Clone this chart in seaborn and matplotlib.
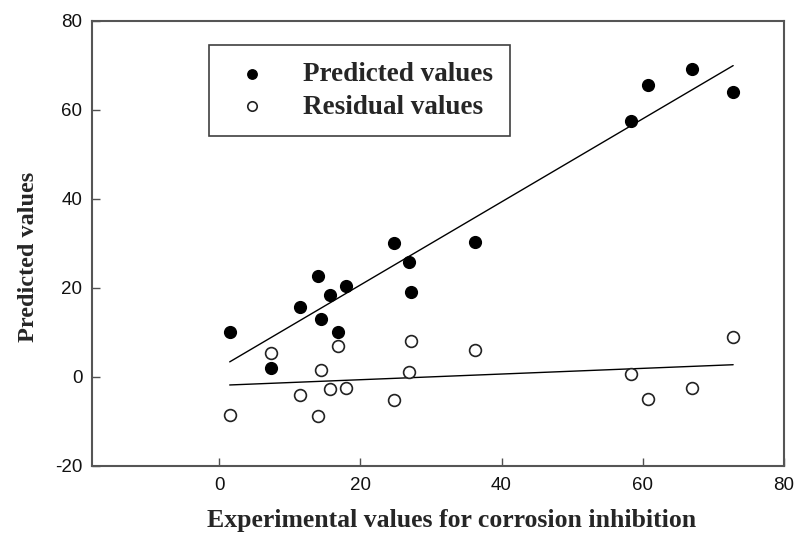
import matplotlib
matplotlib.use("Agg")
import matplotlib.pyplot as plt
import numpy as np
import pandas as pd
import seaborn as sns

# values
experimental = [1.5, 7.3, 11.45, 14.0, 14.5, 15.75, 16.9, 18.0, 24.8, 26.9, 27.2, 36.3,
                58.3, 60.8, 66.95, 72.8]
predicted = [10.1, 1.9, 15.6, 22.7, 13.0, 18.3, 10.0, 20.4, 30.0, 25.7, 19.1, 30.3,
             57.4, 65.5, 69.1, 63.9]
residual = [-8.5, 5.4, -4.2, -8.8, 1.4, -2.7, 6.8, -2.5, -5.25, 1.1, 8.0, 6.0,
            0.7, -4.9, -2.5, 8.9]
x_ticks = [0, 20, 40, 60, 80]
y_ticks = [-20, 0, 20, 40, 60, 80]

df = pd.DataFrame({"experimental": experimental, "predicted": predicted, "residual": residual})

sns.set_theme(style="ticks")
plt.rcParams["font.family"] = ["Liberation Sans", "DejaVu Sans"]
plt.rcParams["axes.unicode_minus"] = False

fig = plt.figure(figsize=(7.95, 5.35), dpi=100)
ax = fig.add_axes([92 / 795, 1 - 465.7 / 535, 692 / 795, 445 / 535])

sns.regplot(data=df, x="experimental", y="predicted", ci=None, scatter=False, ax=ax,
            line_kws=dict(color="black", lw=1.0))
sns.regplot(data=df, x="experimental", y="residual", ci=None, scatter=False, ax=ax,
            line_kws=dict(color="black", lw=1.0))
sns.scatterplot(data=df, x="experimental", y="predicted", ax=ax, s=72, color="black",
                edgecolor="black", linewidth=1.0, zorder=3, label="Predicted values")
sns.scatterplot(data=df, x="experimental", y="residual", ax=ax, s=72, facecolor="white",
                edgecolor="#222222", linewidth=1.2, zorder=3, label="Residual values")

ax.set_xlim(-18, 80)
ax.set_ylim(-20, 80)
ax.set_xticks(x_ticks)
ax.set_yticks(y_ticks)
ax.tick_params(direction="in", length=6, width=1.0, color="#505050", labelsize=13.5,
               labelcolor="#111111")
ax.tick_params(axis="x", pad=8)
ax.tick_params(axis="y", pad=7)
for sp in ax.spines.values():
    sp.set_visible(True)
    sp.set_color("#555555")
    sp.set_linewidth(1.5)

ax.set_xlabel("Experimental values for corrosion inhibition", family=["Liberation Serif"],
              fontweight="bold", fontsize=18.5)
ax.xaxis.set_label_coords(0.519, -0.097)
ax.set_ylabel("Predicted values", family=["Liberation Serif"], fontweight="bold",
              fontsize=17.5)
ax.yaxis.set_label_coords(-0.077, 0.469)

leg = ax.legend(loc="upper left", bbox_to_anchor=(0.1695, 0.945), borderaxespad=0,
                prop=dict(family="Liberation Serif", weight="bold", size=19.5),
                frameon=True, fancybox=False, framealpha=1, edgecolor="#404040",
                borderpad=0.62, labelspacing=0.28, handlelength=1.95, handletextpad=0.88,
                markerscale=0.8)
leg.get_frame().set_linewidth(1.2)

fig.savefig("out.png", dpi=100)
